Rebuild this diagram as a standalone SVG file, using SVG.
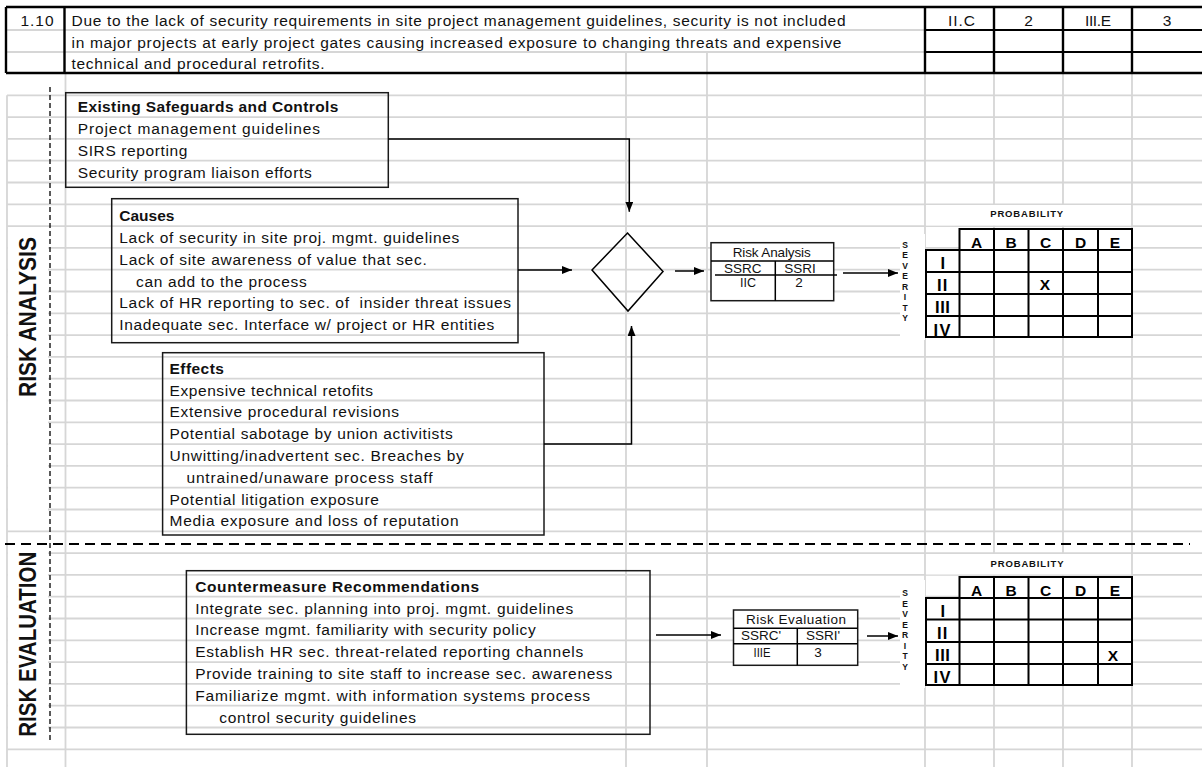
<svg xmlns="http://www.w3.org/2000/svg" width="1202" height="767" viewBox="0 0 1202 767">
  <style>
    .grid { stroke: #d6d6d6; stroke-width: 1.8; fill: none; }
    .hdr { stroke: #000; stroke-width: 2.4; fill: none; }
    .hdr-thin { stroke: #000; stroke-width: 1.8; fill: none; }
    .box { stroke: #1a1a1a; stroke-width: 1.5; fill: none; }
    .wbox { stroke: #1a1a1a; stroke-width: 1.5; fill: #fff; }
    .cell { stroke: #000; stroke-width: 2; fill: #fff; }
    .ln { stroke: #000; stroke-width: 1.5; fill: none; }
    .conn { stroke: #000; stroke-width: 1.5; fill: none; marker-end: url(#arrow); }
    .t { font-family: "Liberation Sans", Arial, sans-serif; font-size: 15.5px; fill: #111; }
    .tb { font-family: "Liberation Sans", Arial, sans-serif; font-size: 15.5px; font-weight: bold; fill: #111; }
    .small { font-family: "Liberation Sans", Arial, sans-serif; font-size: 13.5px; fill: #111; }
    .prob { font-family: "Liberation Sans", Arial, sans-serif; font-size: 9.5px; font-weight: bold; fill: #111; text-anchor: middle; }
    .sev { font-family: "Liberation Sans", Arial, sans-serif; font-size: 8.5px; font-weight: bold; fill: #111; text-anchor: middle; }
    .mx { font-family: "Liberation Sans", Arial, sans-serif; font-size: 15.5px; font-weight: bold; fill: #000; text-anchor: middle; }
    .rl { font-family: "Liberation Sans", Arial, sans-serif; font-size: 16.5px; font-weight: bold; fill: #000; text-anchor: middle; }
    .side { font-family: "Liberation Sans", Arial, sans-serif; font-size: 23.5px; font-weight: bold; fill: #111; text-anchor: middle; }
  </style>
  <defs>
    <marker id="arrow" markerUnits="userSpaceOnUse" markerWidth="11" markerHeight="9" refX="10" refY="4" orient="auto">
      <path d="M0,0 L10,4 L0,8 z" fill="#000"/>
    </marker>
  </defs>

  <rect x="0" y="0" width="1202" height="767" fill="#fff"/>

  <!-- spreadsheet gridlines -->
  <g id="grid">
    <path class="grid" d="M6,30 H925 M6,52 H925 M626,52 V73 M707,52 V73"/>
    <path class="grid" d="M7,95.3 H1202 M7,117.1 H1202 M7,138.9 H1202 M7,160.7 H1202 M7,182.5 H1202 M7,204.3 H1202 M7,226.1 H1202 M7,247.9 H1202 M7,269.7 H1202 M7,291.5 H1202 M7,313.3 H1202 M7,335.1 H1202 M7,356.9 H1202 M7,378.7 H1202 M7,400.5 H1202 M7,422.3 H1202 M7,444.1 H1202 M7,465.9 H1202 M7,487.7 H1202 M7,509.5 H1202 M7,531.3 H1202 M7,553.1 H1202 M7,574.9 H1202 M7,596.7 H1202 M7,618.5 H1202 M7,640.3 H1202 M7,662.1 H1202 M7,683.9 H1202 M7,705.7 H1202 M7,727.5 H1202 M7,749.3 H1202"/>
    <path class="grid" d="M7,95.3 V767 M65.5,73 V767 M626,73 V767 M707,73 V767 M925,73 V767 M994,73 V767 M1063,73 V767 M1132,73 V767"/>
  </g>

  <!-- title row -->
  <g id="header">
    <path class="hdr" d="M6,7 H1202 M6,73 H1202 M6,7 V73 M64.5,7 V73 M925,7 V73 M994,7 V73 M1063,7 V73 M1132,7 V73"/>
    <path class="hdr-thin" d="M925,30 H1202 M925,52 H1202"/>
    <text class="t" x="20.5" y="25.5" textLength="33" lengthAdjust="spacing">1.10</text>
    <text class="t" x="71.5" y="25.5" textLength="774" lengthAdjust="spacing">Due to the lack of security requirements in site project management guidelines, security is not included</text>
    <text class="t" x="71.5" y="47.5" textLength="770" lengthAdjust="spacing">in major projects at early project gates causing increased exposure to changing threats and expensive</text>
    <text class="t" x="71.5" y="69" textLength="253" lengthAdjust="spacing">technical and procedural retrofits.</text>
    <text class="t" x="961.5" y="25.5" text-anchor="middle" textLength="27" lengthAdjust="spacing">II.C</text>
    <text class="t" x="1028.5" y="25.5" text-anchor="middle">2</text>
    <text class="t" x="1098" y="25.5" text-anchor="middle" textLength="26" lengthAdjust="spacing">III.E</text>
    <text class="t" x="1167" y="25.5" text-anchor="middle">3</text>
  </g>

  <!-- phase labels and separators -->
  <g id="phase-labels">
    <rect x="8" y="228" width="40" height="294" fill="#fff"/>
    <rect x="8" y="548" width="40" height="196" fill="#fff"/>
    <text class="side" transform="translate(35.5,317) rotate(-90)" textLength="160" lengthAdjust="spacingAndGlyphs">RISK ANALYSIS</text>
    <text class="side" transform="translate(35.5,644.2) rotate(-90)" textLength="185" lengthAdjust="spacingAndGlyphs">RISK EVALUATION</text>
    <path d="M50,87 V742" stroke="#000" stroke-width="1.3" stroke-dasharray="5 3" fill="none"/>
    <path d="M5,544 H1190" stroke="#000" stroke-width="2.2" stroke-dasharray="10 6" fill="none"/>
  </g>

  <!-- existing safeguards -->
  <g id="node-existing">
    <rect class="box" x="65.7" y="92.7" width="322.6" height="94.6"/>
    <text class="tb" x="77.7" y="112.1" textLength="260.6" lengthAdjust="spacing">Existing Safeguards and Controls</text>
    <text class="t" x="77.7" y="133.9" textLength="242.3" lengthAdjust="spacing">Project management guidelines</text>
    <text class="t" x="77.7" y="155.7" textLength="109.7" lengthAdjust="spacing">SIRS reporting</text>
    <text class="t" x="77.7" y="177.5" textLength="234" lengthAdjust="spacing">Security program liaison efforts</text>
  </g>

  <!-- causes -->
  <g id="node-causes">
    <rect class="box" x="111.7" y="198.7" width="406.3" height="144"/>
    <text class="tb" x="119.3" y="221.1">Causes</text>
    <text class="t" x="119.3" y="242.9" textLength="340" lengthAdjust="spacing">Lack of security in site proj. mgmt. guidelines</text>
    <text class="t" x="119.3" y="264.7" textLength="307.4" lengthAdjust="spacing">Lack of site awareness of value that sec.</text>
    <text class="t" x="136" y="286.5" textLength="170.7" lengthAdjust="spacing">can add to the process</text>
    <text class="t" x="119.3" y="308.3" textLength="391.7" lengthAdjust="spacing" xml:space="preserve">Lack of HR reporting to sec. of  insider threat issues</text>
    <text class="t" x="119.3" y="330.1" textLength="375" lengthAdjust="spacing">Inadequate sec. Interface w/ project or HR entities</text>
  </g>

  <!-- effects -->
  <g id="node-effects">
    <rect class="box" x="162.6" y="352.7" width="381.4" height="182.3"/>
    <text class="tb" x="169.5" y="373.7" textLength="54.4" lengthAdjust="spacing">Effects</text>
    <text class="t" x="169.5" y="395.5" textLength="203.5" lengthAdjust="spacing">Expensive technical retofits</text>
    <text class="t" x="169.5" y="417.3" textLength="229.5" lengthAdjust="spacing">Extensive procedural revisions</text>
    <text class="t" x="169.5" y="439.1" textLength="283.2" lengthAdjust="spacing">Potential sabotage by union activitists</text>
    <text class="t" x="169.5" y="460.9" textLength="294.3" lengthAdjust="spacing">Unwitting/inadvertent sec. Breaches by</text>
    <text class="t" x="186.4" y="482.7" textLength="246.1" lengthAdjust="spacing">untrained/unaware process staff</text>
    <text class="t" x="169.5" y="504.5" textLength="209.4" lengthAdjust="spacing">Potential litigation exposure</text>
    <text class="t" x="169.5" y="526.3" textLength="289" lengthAdjust="spacing">Media exposure and loss of reputation</text>
  </g>

  <!-- decision diamond -->
  <g id="node-decision">
    <polygon points="627.5,233 663,271.5 628,311 592,270" fill="none" stroke="#000" stroke-width="1.5"/>
  </g>

  <!-- risk analysis score -->
  <g id="node-risk-analysis">
    <rect class="wbox" x="711" y="242.7" width="122.7" height="58"/>
    <path class="ln" d="M711,261 H833.7 M775.3,261 V300.7 M715,275 H837"/>
    <text class="small" x="771.7" y="256.7" text-anchor="middle" font-size="11.5" textLength="78" lengthAdjust="spacing">Risk Analysis</text>
    <text class="small" x="742.7" y="272.7" text-anchor="middle">SSRC</text>
    <text class="small" x="800" y="272.7" text-anchor="middle">SSRI</text>
    <text class="small" x="748" y="287.3" text-anchor="middle" textLength="16" lengthAdjust="spacingAndGlyphs">IIC</text>
    <text class="small" x="799" y="287.3" text-anchor="middle">2</text>
  </g>

  <!-- risk analysis matrix -->
  <g id="node-matrix-analysis">
    <rect x="926" y="205" width="205" height="20.5" fill="#fff"/>
    <text class="prob" x="1026.7" y="217.3" textLength="73" lengthAdjust="spacing">PROBABILITY</text>
    <rect x="900" y="234" width="25" height="106" fill="#fff"/>
    <text class="sev" x="905" y="247.6">S<tspan x="905" dy="10.5">E</tspan><tspan x="905" dy="10.5">V</tspan><tspan x="905" dy="10.5">E</tspan><tspan x="905" dy="10.5">R</tspan><tspan x="905" dy="10.5">I</tspan><tspan x="905" dy="10.5">T</tspan><tspan x="905" dy="10.5">Y</tspan></text>
    <rect class="cell" x="959.5" y="229" width="172.5" height="21"/>
    <rect class="cell" x="926" y="250" width="206" height="87"/>
    <path stroke="#000" stroke-width="2" fill="none" d="M959.5,250 V337 M994,229 V337 M1028.5,229 V337 M1063,229 V337 M1098,229 V337 M926,272 H1132 M926,294 H1132 M926,316 H1132"/>
    <text class="mx" x="976.7" y="247.5">A</text>
    <text class="mx" x="1011.2" y="247.5">B</text>
    <text class="mx" x="1045.7" y="247.5">C</text>
    <text class="mx" x="1080.5" y="247.5">D</text>
    <text class="mx" x="1115" y="247.5">E</text>
    <text class="rl" x="942.7" y="269">I</text>
    <text class="rl" x="942.7" y="290.5" letter-spacing="1">II</text>
    <text class="rl" x="942.7" y="312.7" letter-spacing="0.5">III</text>
    <text class="rl" x="942.7" y="335.5" letter-spacing="1.5">IV</text>
    <text class="mx" x="1045" y="290">X</text>
  </g>

  <!-- countermeasures -->
  <g id="node-countermeasures">
    <rect class="box" x="186.4" y="570.7" width="463.6" height="163.6"/>
    <text class="tb" x="195.2" y="592" textLength="284" lengthAdjust="spacing">Countermeasure Recommendations</text>
    <text class="t" x="195.2" y="613.5" textLength="378" lengthAdjust="spacing">Integrate sec. planning into proj. mgmt. guidelines</text>
    <text class="t" x="195.2" y="635.3" textLength="340.5" lengthAdjust="spacing">Increase mgmt. familiarity with security policy</text>
    <text class="t" x="195.2" y="657.1" textLength="388" lengthAdjust="spacing">Establish HR sec. threat-related reporting channels</text>
    <text class="t" x="195.2" y="678.9" textLength="417" lengthAdjust="spacing">Provide training to site staff to increase sec. awareness</text>
    <text class="t" x="195.2" y="700.7" textLength="394.8" lengthAdjust="spacing">Familiarize mgmt. with information systems process</text>
    <text class="t" x="219.3" y="722.5" textLength="196.7" lengthAdjust="spacing">control security guidelines</text>
  </g>

  <!-- risk evaluation score -->
  <g id="node-risk-evaluation">
    <rect class="wbox" x="733.5" y="610" width="124.2" height="55.3"/>
    <path class="ln" d="M733.5,628.3 H857.7 M733.5,643.7 H857.7 M797.3,628.3 V665.3"/>
    <text class="small" x="796" y="624.3" text-anchor="middle" textLength="100" lengthAdjust="spacing">Risk Evaluation</text>
    <text class="small" x="761" y="640" text-anchor="middle">SSRC'</text>
    <text class="small" x="823" y="640" text-anchor="middle">SSRI'</text>
    <text class="small" x="762" y="656.7" text-anchor="middle" textLength="17" lengthAdjust="spacingAndGlyphs">IIIE</text>
    <text class="small" x="818" y="656.7" text-anchor="middle">3</text>
  </g>

  <!-- risk evaluation matrix -->
  <g id="node-matrix-evaluation">
    <rect x="926" y="554" width="205" height="20.5" fill="#fff"/>
    <text class="prob" x="1027" y="566.5" textLength="73" lengthAdjust="spacing">PROBABILITY</text>
    <rect x="900" y="580" width="25" height="108" fill="#fff"/>
    <text class="sev" x="905" y="596">S<tspan x="905" dy="10.5">E</tspan><tspan x="905" dy="10.5">V</tspan><tspan x="905" dy="10.5">E</tspan><tspan x="905" dy="10.5">R</tspan><tspan x="905" dy="10.5">I</tspan><tspan x="905" dy="10.5">T</tspan><tspan x="905" dy="10.5">Y</tspan></text>
    <rect class="cell" x="959.5" y="577" width="172.5" height="21"/>
    <rect class="cell" x="926" y="598" width="206" height="87"/>
    <path stroke="#000" stroke-width="2" fill="none" d="M959.5,598 V685 M994,577 V685 M1028.5,577 V685 M1063,577 V685 M1098,577 V685 M926,619.5 H1132 M926,642 H1132 M926,664 H1132"/>
    <text class="mx" x="976.7" y="595.5">A</text>
    <text class="mx" x="1011.2" y="595.5">B</text>
    <text class="mx" x="1045.7" y="595.5">C</text>
    <text class="mx" x="1080.5" y="595.5">D</text>
    <text class="mx" x="1115" y="595.5">E</text>
    <text class="rl" x="942.7" y="616.5">I</text>
    <text class="rl" x="942.7" y="638.5" letter-spacing="1">II</text>
    <text class="rl" x="942.7" y="660.5" letter-spacing="0.5">III</text>
    <text class="rl" x="942.7" y="683" letter-spacing="1.5">IV</text>
    <text class="mx" x="1113" y="661">X</text>
  </g>

  <!-- flow connectors -->
  <g id="connectors">
    <path class="conn" d="M388.3,139 H629.3 V211.7"/>
    <path class="conn" d="M518,270 H572"/>
    <path class="conn" d="M544,444 H631.5 V326"/>
    <path class="conn" d="M675,271 H704"/>
    <path class="conn" d="M843,273 H898"/>
    <path class="conn" d="M656,635 H721"/>
    <path class="conn" d="M867,636 H898"/>
  </g>
</svg>
